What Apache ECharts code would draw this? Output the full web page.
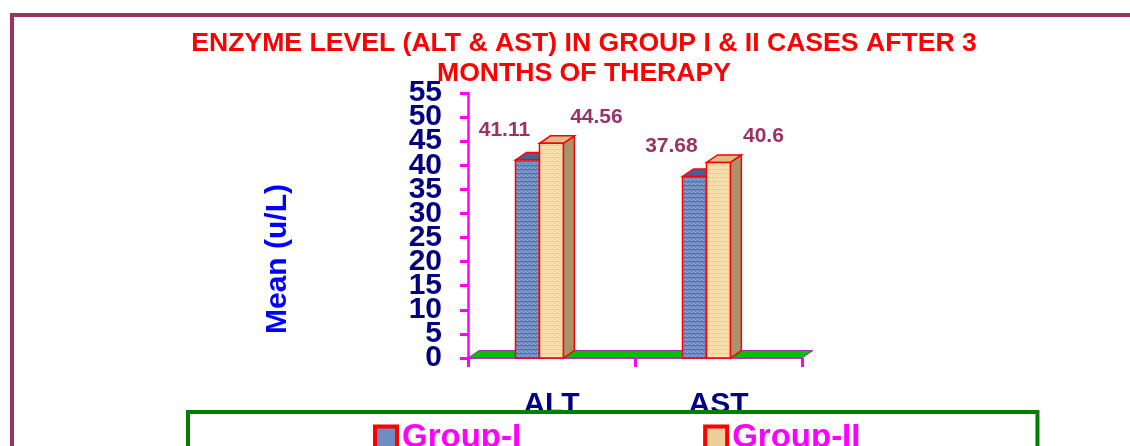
<!DOCTYPE html>
<html>
<head>
<meta charset="utf-8">
<script src="https://cdn.jsdelivr.net/npm/echarts@6/dist/echarts.min.js"></script>
<style>
  html, body { margin: 0; padding: 0; background: #fff; }
  #chart { width: 1130px; height: 446px; }
</style>
</head>
<body>
<div id="chart"></div>
<script>
// data
let categories = ['ALT', 'AST']
let groupI = [41.11, 37.68]
let groupII = [44.56, 40.6]
let seriesNames = ['Group-I', 'Group-II']
let yTicks = [0, 5, 10, 15, 20, 25, 30, 35, 40, 45, 50, 55]
let titleLines = ['ENZYME LEVEL (ALT & AST) IN GROUP I & II CASES AFTER 3', 'MONTHS OF THERAPY']

const FONT = 'Arial, "Liberation Sans", sans-serif'
const DEPTH_X = 11
const DEPTH_Y = -7.5

// small texture for the bars (fixed stripes, no noise)
function makePattern(base, dark, light) {
  let c = document.createElement('canvas')
  c.width = 4
  c.height = 4
  let ctx = c.getContext('2d')
  ctx.fillStyle = base
  ctx.fillRect(0, 0, 4, 4)
  ctx.fillStyle = dark
  ctx.fillRect(0, 1, 4, 1)
  ctx.fillStyle = light
  ctx.fillRect(1, 3, 1, 1)
  ctx.fillRect(3, 0, 1, 1)
  return c
}

let blueFill = { image: makePattern('#6f8cc2', '#56709f', '#9bb2dc'), repeat: 'repeat' }
let tanFill = { image: makePattern('#f4dcaa', '#ecd09a', '#f8e6c0'), repeat: 'repeat' }

function bar3d(shift, colors, labelDx, labelDy) {
  return function (params, api) {
    let cat = api.value(0)
    let val = api.value(1)
    let base = api.coord([cat, 0])
    let tip = api.coord([cat, val])
    let band = api.size([1, 0])[0]
    let w = band * 0.143
    let x0 = base[0] + band * shift
    let x1 = x0 + w
    let y0 = base[1]
    let y1 = tip[1]
    let edge = { stroke: '#ff0000', lineWidth: 1.5 }
    return {
      type: 'group',
      children: [
        {
          type: 'polygon',
          shape: { points: [[x1, y1], [x1 + DEPTH_X, y1 + DEPTH_Y], [x1 + DEPTH_X, y0 + DEPTH_Y], [x1, y0]] },
          style: Object.assign({ fill: colors.side }, edge)
        },
        {
          type: 'polygon',
          shape: { points: [[x0, y1], [x1, y1], [x1 + DEPTH_X, y1 + DEPTH_Y], [x0 + DEPTH_X, y1 + DEPTH_Y]] },
          style: Object.assign({ fill: colors.top }, edge)
        },
        {
          type: 'rect',
          shape: { x: x0, y: y1, width: w, height: y0 - y1 },
          style: Object.assign({ fill: colors.front }, edge)
        },
        {
          type: 'text',
          x: x0 + w / 2 + labelDx,
          y: y1 + labelDy,
          style: {
            text: String(val),
            font: 'bold 21px ' + FONT,
            fill: '#993366',
            align: 'center',
            verticalAlign: 'middle'
          }
        }
      ]
    }
  }
}

function floorRender(params, api) {
  let band = api.size([1, 0])[0]
  let first = api.coord([0, 0])
  let last = api.coord([categories.length - 1, 0])
  let xa = first[0] - band / 2
  let xb = last[0] + band / 2
  let y = first[1]
  return {
    type: 'polygon',
    shape: { points: [[xa, y], [xa + DEPTH_X, y + DEPTH_Y], [xb + DEPTH_X, y + DEPTH_Y], [xb, y]] },
    style: { fill: '#00c000', stroke: '#9933aa', lineWidth: 1 }
  }
}

let yLabelStyle = { color: '#000080', fontSize: 30, fontWeight: 'bold', fontFamily: FONT, margin: 26 }

// labels are packed tightly, so they are split over two overlaid axes
// (even and odd ticks) to keep the overlap check from dropping any
let evenTicks = yTicks.filter((v, i) => i % 2 === 0)
let oddTicks = yTicks.filter((v, i) => i % 2 === 1)

let chart = echarts.init(document.getElementById('chart'))
chart.setOption({
  backgroundColor: '#ffffff',
  animation: false,
  title: {
    text: titleLines.join('\n'),
    left: 579,
    top: 24,
    textAlign: 'center',
    textStyle: { color: '#ff0000', fontSize: 26.6, fontWeight: 'bold', fontFamily: FONT, lineHeight: 30 }
  },
  graphic: [
    {
      type: 'rect',
      shape: { x: 12, y: 15, width: 1200, height: 500 },
      style: { fill: 'none', stroke: '#993366', lineWidth: 4 },
      z: -1
    },
    {
      type: 'text',
      x: 278,
      y: 259,
      rotation: Math.PI / 2,
      style: {
        text: 'Mean (u/L)',
        font: 'bold 30px ' + FONT,
        fill: '#0000ff',
        align: 'center',
        verticalAlign: 'middle'
      }
    }
  ],
  grid: { left: 468, right: 328, top: 93, bottom: 88 },
  xAxis: {
    type: 'category',
    data: categories,
    boundaryGap: true,
    axisLine: { lineStyle: { color: '#cc33cc', width: 2 } },
    axisTick: { show: true, length: 9, lineStyle: { color: '#ff00ff', width: 3 } },
    axisLabel: { color: '#000080', fontSize: 30, fontWeight: 'bold', fontFamily: FONT, margin: 32 },
    splitLine: { show: false }
  },
  yAxis: [
    {
      type: 'value',
      position: 'left',
      min: 0,
      max: 55,
      interval: 5,
      axisLine: { show: true, lineStyle: { color: '#ff00ff', width: 2.5 } },
      axisTick: { show: true, length: 8, customValues: yTicks, lineStyle: { color: '#ff00ff', width: 3 } },
      axisLabel: Object.assign({ customValues: evenTicks, showMinLabel: true, showMaxLabel: true }, yLabelStyle),
      splitLine: { show: false }
    },
    {
      type: 'value',
      position: 'left',
      offset: 0,
      min: 0,
      max: 55,
      interval: 5,
      axisLine: { show: false },
      axisTick: { show: false },
      axisLabel: Object.assign({ customValues: oddTicks, showMinLabel: true, showMaxLabel: true }, yLabelStyle),
      splitLine: { show: false }
    }
  ],
  legend: {
    data: [
      { name: seriesNames[0], itemStyle: { color: '#6f8cc2', borderColor: '#ff0000', borderWidth: 4 } },
      { name: seriesNames[1], itemStyle: { color: '#ecd09a', borderColor: '#ff0000', borderWidth: 4 } }
    ],
    icon: 'rect',
    left: 188,
    top: 412,
    padding: [9, 177, 40, 185],
    itemGap: 182,
    itemWidth: 22,
    itemHeight: 22,
    borderColor: '#008000',
    borderWidth: 4,
    borderRadius: 0,
    backgroundColor: '#ffffff',
    textStyle: { color: '#ff00ff', fontSize: 33, fontWeight: 'bold', fontFamily: FONT }
  },
  series: [
    {
      name: 'floor',
      type: 'custom',
      silent: true,
      z: 1,
      data: [[0, 0]],
      renderItem: floorRender
    },
    {
      name: seriesNames[0],
      type: 'custom',
      z: 2,
      itemStyle: { color: '#6f8cc2' },
      data: groupI.map((v, i) => [i, v]),
      renderItem: bar3d(-0.2156, { front: blueFill, top: '#4f5f8a', side: '#4f5f8a' }, -23, -30)
    },
    {
      name: seriesNames[1],
      type: 'custom',
      z: 3,
      itemStyle: { color: '#ecd09a' },
      data: groupII.map((v, i) => [i, v]),
      renderItem: bar3d(-0.072, { front: tanFill, top: '#dcbc88', side: '#a8936a' }, 45, -26)
    }
  ]
})
</script>
</body>
</html>
